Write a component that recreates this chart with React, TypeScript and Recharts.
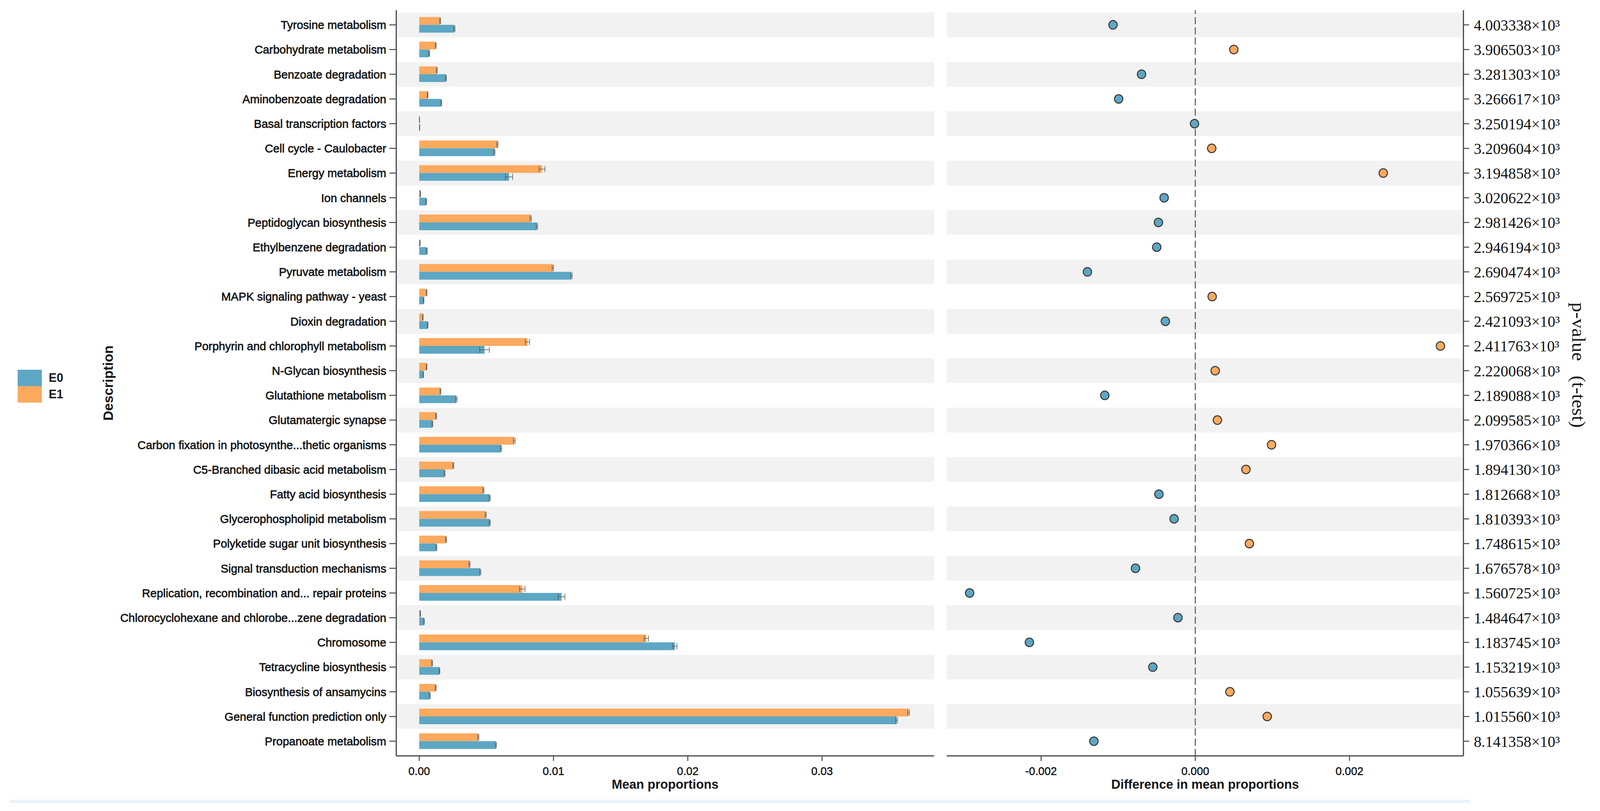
import { Bar, BarChart, ComposedChart, ErrorBar, Line, ReferenceArea, ReferenceLine, XAxis, YAxis } from 'recharts';

const categories = [
  'Tyrosine metabolism',
  'Carbohydrate metabolism',
  'Benzoate degradation',
  'Aminobenzoate degradation',
  'Basal transcription factors',
  'Cell cycle - Caulobacter',
  'Energy metabolism',
  'Ion channels',
  'Peptidoglycan biosynthesis',
  'Ethylbenzene degradation',
  'Pyruvate metabolism',
  'MAPK signaling pathway - yeast',
  'Dioxin degradation',
  'Porphyrin and chlorophyll metabolism',
  'N-Glycan biosynthesis',
  'Glutathione metabolism',
  'Glutamatergic synapse',
  'Carbon fixation in photosynthe...thetic organisms',
  'C5-Branched dibasic acid metabolism',
  'Fatty acid biosynthesis',
  'Glycerophospholipid metabolism',
  'Polyketide sugar unit biosynthesis',
  'Signal transduction mechanisms',
  'Replication, recombination and... repair proteins',
  'Chlorocyclohexane and chlorobe...zene degradation',
  'Chromosome',
  'Tetracycline biosynthesis',
  'Biosynthesis of ansamycins',
  'General function prediction only',
  'Propanoate metabolism',
];

// mean proportions per group
const e0Means = [
  0.00262, 0.00074, 0.00199, 0.00164, 0.00003, 0.0056, 0.00669, 0.00052, 0.00877, 0.00057,
  0.01134, 0.00033, 0.00063, 0.00486, 0.0003, 0.00276, 0.00098, 0.00609, 0.00189, 0.00525,
  0.00525, 0.00128, 0.00454, 0.0106, 0.00036, 0.01904, 0.0015, 0.00079, 0.03555, 0.00571,
];
const e1Means = [
  0.00156, 0.00123, 0.00131, 0.00063, 0.00002, 0.00582, 0.00915, 0.00008, 0.0083, 0.00005,
  0.00995, 0.00055, 0.00027, 0.00806, 0.00055, 0.00158, 0.00126, 0.00708, 0.00254, 0.00478,
  0.00495, 0.00199, 0.00374, 0.00768, 0.00008, 0.01691, 0.00096, 0.00123, 0.03645, 0.0044,
];
const e0Errors = [
  0.00004, 0.00003, 0.00003, 0.00003, 0.00001, 0.00004, 0.00027, 0.00002, 0.00005, 0.00002,
  0.00005, 0.00002, 0.00002, 0.00036, 0.00002, 0.00005, 0.00003, 0.00005, 0.00003, 0.00004,
  0.00004, 0.00003, 0.00004, 0.00025, 0.00002, 0.00016, 0.00003, 0.00003, 0.00006, 0.00004,
];
const e1Errors = [
  0.00003, 0.00003, 0.00003, 0.00002, 0.00001, 0.00004, 0.00022, 0.00002, 0.00005, 0.00002,
  0.00005, 0.00002, 0.00002, 0.00016, 0.00002, 0.00003, 0.00003, 0.00006, 0.00003, 0.00004,
  0.00004, 0.00003, 0.00004, 0.0002, 0.00002, 0.00016, 0.00003, 0.00003, 0.00006, 0.00004,
];

// difference in mean proportions (E1 - E0)
const diffs = [
  -0.001067, 0.0005, -0.000697, -0.000994, -0.00001, 0.000213, 0.002438, -0.000404, -0.000478, -0.0005,
  -0.001399, 0.000219, -0.000388, 0.00318, 0.000258, -0.001174, 0.000287, 0.000989, 0.000657, -0.000472,
  -0.000275, 0.000702, -0.000775, -0.002927, -0.000225, -0.002152, -0.000551, 0.000449, 0.000933, -0.001315,
];

const pValues = [
  '4.003338×10³', '3.906503×10³', '3.281303×10³', '3.266617×10³', '3.250194×10³',
  '3.209604×10³', '3.194858×10³', '3.020622×10³', '2.981426×10³', '2.946194×10³',
  '2.690474×10³', '2.569725×10³', '2.421093×10³', '2.411763×10³', '2.220068×10³',
  '2.189088×10³', '2.099585×10³', '1.970366×10³', '1.894130×10³', '1.812668×10³',
  '1.810393×10³', '1.748615×10³', '1.676578×10³', '1.560725×10³', '1.484647×10³',
  '1.183745×10³', '1.153219×10³', '1.055639×10³', '1.015560×10³', '8.141358×10³',
];

const meanTicks = [0, 0.01, 0.02, 0.03];
const diffTicks = [-0.002, 0, 0.002];

const FONT = '"Liberation Sans", Arial, Helvetica, sans-serif';
const SERIF = '"Liberation Serif", "Times New Roman", serif';
const E0_COLOR = '#5DA7C4';
const E1_COLOR = '#FDA95E';
const BAND = '#F2F2F2';
const AXIS = '#474747';
const TEXT = '#161616';

// the photographed page only shows 4096px across, so squeeze the 4171px layout to fit
const FIT_X = 4096 / 4171;

const SERIES = [
  { key: 'e0', label: 'E0', color: E0_COLOR },
  { key: 'e1', label: 'E1', color: E1_COLOR },
];

const data = categories.map((name, i) => ({
  name,
  e0: e0Means[i],
  e1: e1Means[i],
  errE0: e0Errors[i],
  errE1: e1Errors[i],
  diff: diffs[i],
  pval: pValues[i],
}));

const tickStyle = { fontSize: 29, fill: TEXT, fontFamily: FONT, stroke: TEXT, strokeWidth: 0.6 };
const titleStyle = { fontSize: 33, fontWeight: 'bold', fill: TEXT, fontFamily: FONT };

const DiffDot = (props: any) => {
  const { cx, cy, payload, index } = props;
  if (cx == null || cy == null) return null;
  return (
    <circle
      key={index}
      cx={cx}
      cy={cy}
      r={11}
      fill={payload.diff < 0 ? E0_COLOR : E1_COLOR}
      stroke="#333"
      strokeWidth={2.5}
    />
  );
};

export default function App() {
  return (
    <div
      style={{
        position: 'absolute',
        left: 0,
        top: 0,
        width: 4171,
        height: 2075,
        background: '#fff',
        transform: `scaleX(${FIT_X})`,
        transformOrigin: '0 0',
      }}
    >
      {/* legend */}
      <div style={{ position: 'absolute', left: 46, top: 946, fontFamily: FONT }}>
        {SERIES.map((s) => (
          <div key={s.key} style={{ display: 'flex', alignItems: 'center', height: 42 }}>
            <span style={{ width: 63, height: 42, background: s.color, display: 'inline-block' }} />
            <span style={{ marginLeft: 18, fontSize: 31, fontWeight: 'bold', color: TEXT }}>{s.label}</span>
          </div>
        ))}
      </div>

      <div style={{ position: 'absolute', left: 0, top: 0 }}>
        <BarChart
          width={2460}
          height={2075}
          data={data}
          layout="vertical"
          margin={{ top: 26, right: 25, bottom: 41, left: 0 }}
          barCategoryGap="18%"
          barGap={0}
        >
          {categories.map((name, i) =>
            i % 2 === 0 ? (
              <ReferenceArea key={name} y1={name} y2={name} fill={BAND} fillOpacity={1} stroke="none" />
            ) : null,
          )}
          <XAxis
            type="number"
            domain={[-0.00171, 0.03834]}
            ticks={meanTicks}
            tickFormatter={(v: number) => v.toFixed(2)}
            allowDataOverflow
            height={100}
            axisLine={{ stroke: AXIS, strokeWidth: 3 }}
            tickLine={{ stroke: AXIS, strokeWidth: 2.5 }}
            tickSize={13}
            tickMargin={15}
            tick={tickStyle}
            label={{ value: 'Mean proportions', position: 'insideBottom', offset: 16, style: titleStyle }}
          />
          <YAxis
            type="category"
            dataKey="name"
            width={1033}
            interval={0}
            padding={{ top: 6, bottom: 6 }}
            axisLine={{ stroke: AXIS, strokeWidth: 3 }}
            tickLine={{ stroke: AXIS, strokeWidth: 2.5 }}
            tickSize={18}
            tickMargin={8}
            tick={{ ...tickStyle, fontSize: 30, strokeWidth: 0.9 }}
            label={{
              value: 'Description',
              angle: -90,
              position: 'insideLeft',
              offset: 282,
              style: { ...titleStyle, fontSize: 35, textAnchor: 'middle' },
            }}
          />
          <Bar dataKey="e1" fill={E1_COLOR} isAnimationActive={false}>
            <ErrorBar dataKey="errE1" direction="x" width={8} stroke="#555" strokeWidth={1.5} />
          </Bar>
          <Bar dataKey="e0" fill={E0_COLOR} isAnimationActive={false}>
            <ErrorBar dataKey="errE0" direction="x" width={8} stroke="#555" strokeWidth={1.5} />
          </Bar>
        </BarChart>
      </div>

      <div style={{ position: 'absolute', left: 2440, top: 0 }}>
        <ComposedChart
          width={1731}
          height={2075}
          data={data}
          layout="vertical"
          margin={{ top: 26, right: 0, bottom: 41, left: 28 }}
        >
          {pValues.map((p, i) =>
            i % 2 === 0 ? (
              <ReferenceArea key={p} y1={p} y2={p} fill={BAND} fillOpacity={1} stroke="none" />
            ) : null,
          )}
          <XAxis
            type="number"
            domain={[-0.003224, 0.003478]}
            ticks={diffTicks}
            tickFormatter={(v: number) => v.toFixed(3)}
            allowDataOverflow
            height={100}
            axisLine={{ stroke: AXIS, strokeWidth: 3 }}
            tickLine={{ stroke: AXIS, strokeWidth: 2.5 }}
            tickSize={13}
            tickMargin={15}
            tick={tickStyle}
            label={{ value: 'Difference in mean proportions', position: 'insideBottom', offset: 16, style: titleStyle }}
          />
          <YAxis
            type="category"
            dataKey="pval"
            scale="band"
            orientation="right"
            width={356}
            interval={0}
            padding={{ top: 6, bottom: 6 }}
            axisLine={{ stroke: AXIS, strokeWidth: 3 }}
            tickLine={{ stroke: AXIS, strokeWidth: 2.5 }}
            tickSize={15}
            tickMargin={12}
            tick={{ fontSize: 40, fill: '#111', fontFamily: SERIF }}
          />
          <ReferenceLine x={0} stroke="#505050" strokeWidth={2.5} strokeDasharray="18 8" />
          <Line dataKey="diff" stroke="none" dot={DiffDot} activeDot={false} isAnimationActive={false} />
        </ComposedChart>
      </div>

      {/* right axis title, set vertically */}
      <div
        style={{
          position: 'absolute',
          left: 4091,
          top: 934,
          transform: 'translateY(-50%)',
          writingMode: 'vertical-rl',
          whiteSpace: 'pre',
          fontFamily: SERIF,
          fontSize: 50,
          lineHeight: '50px',
          color: TEXT,
        }}
      >
        {'p-value   (t-test)'}
      </div>

      <div style={{ position: 'absolute', left: 25, top: 2046, width: 3807, height: 9, background: '#EDF3FB' }} />
    </div>
  );
}
